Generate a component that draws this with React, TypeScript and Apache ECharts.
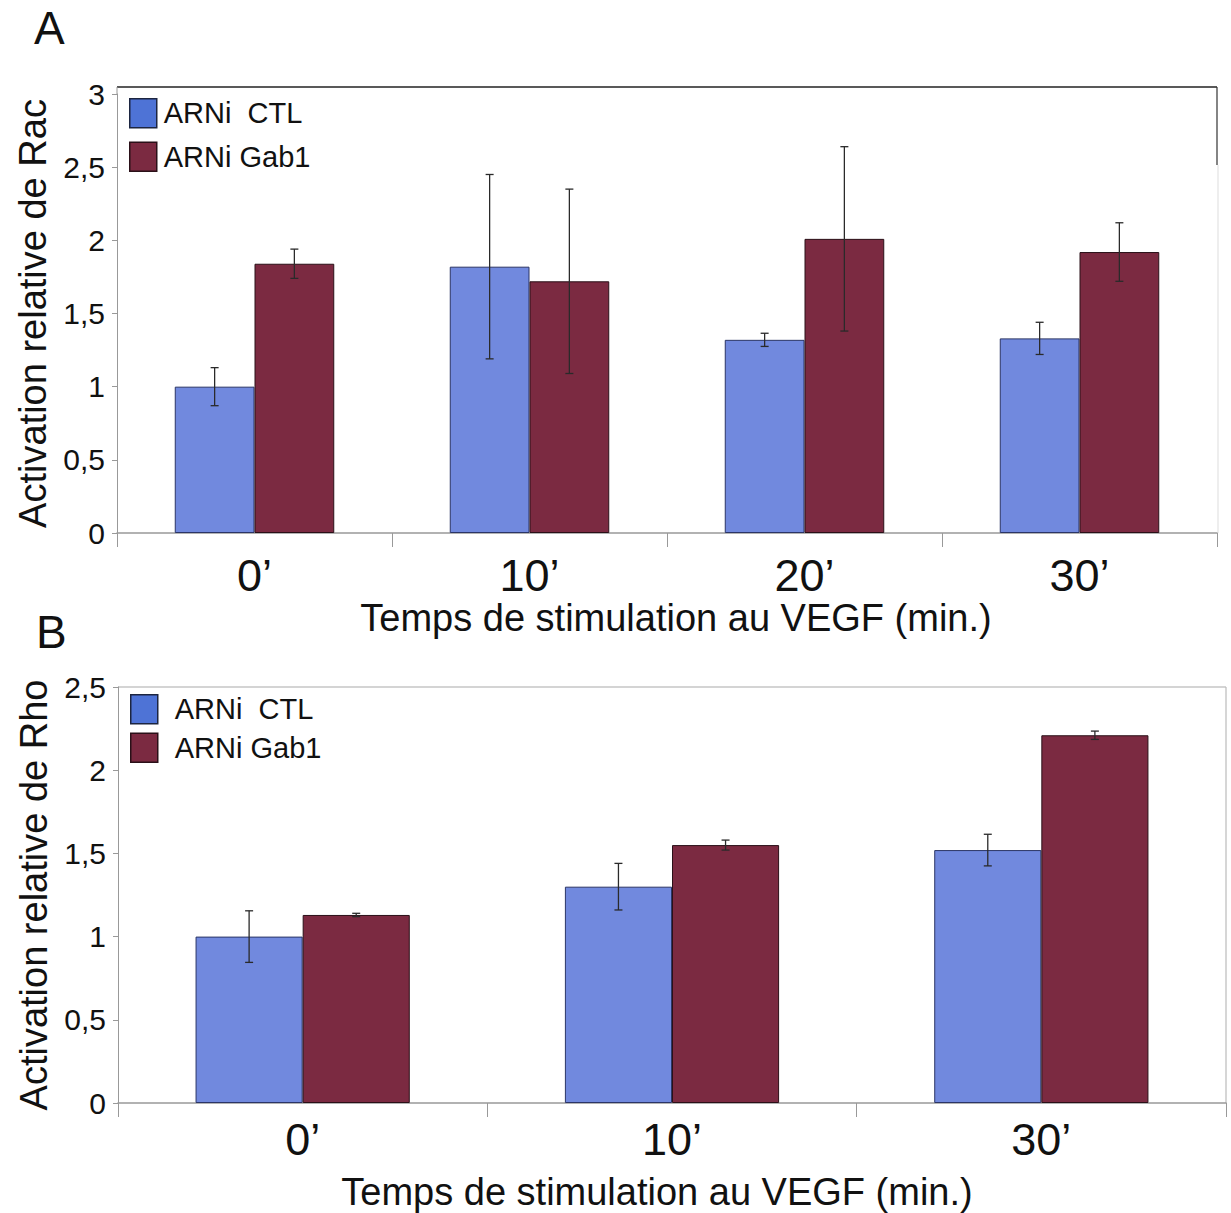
import React, { useEffect, useRef } from "react";
import * as echarts from "echarts";

const catsA = ["0’", "10’", "20’", "30’"];
const racCtl = [1.0, 1.82, 1.32, 1.33];
const racCtlErr = [0.13, 0.63, 0.045, 0.11];
const racGab = [1.84, 1.72, 2.01, 1.92];
const racGabErr = [0.1, 0.63, 0.63, 0.2];

const catsB = ["0’", "10’", "30’"];
const rhoCtl = [1.0, 1.3, 1.52];
const rhoCtlErr = [0.155, 0.14, 0.095];
const rhoGab = [1.13, 1.55, 2.21];
const rhoGabErr = [0.01, 0.03, 0.025];

const yTicksA = [0, 0.5, 1, 1.5, 2, 2.5, 3];
const yTicksB = [0, 0.5, 1, 1.5, 2, 2.5];

const NAME_CTL = "ARNi  CTL";
const NAME_GAB = "ARNi Gab1";
const BLUE = "#7189de";
const RED = "#7b2a41";
const GAP = 0.42;
const FONT = "Liberation Sans, Arial, sans-serif";

function errData(vals: number[], errs: number[], side: number) {
  return vals.map((v, i) => [i, v - errs[i], v + errs[i], side]);
}

const renderErr = (params: any, api: any) => {
  const cat = api.value(0);
  const lo = api.value(1);
  const hi = api.value(2);
  const side = api.value(3);
  const band = api.size([1, 0])[0];
  const bw = (band * (1 - GAP)) / 2;
  const ph = api.coord([cat, hi]);
  const pl = api.coord([cat, lo]);
  const x = ph[0] + (side === 0 ? -bw / 2 : bw / 2);
  const st = { stroke: "#2a2a2a", lineWidth: 1.3 };
  return {
    type: "group",
    children: [
      { type: "line", shape: { x1: x, y1: ph[1], x2: x, y2: pl[1] }, style: st },
      { type: "line", shape: { x1: x - 4, y1: ph[1], x2: x + 4, y2: ph[1] }, style: st },
      { type: "line", shape: { x1: x - 4, y1: pl[1], x2: x + 4, y2: pl[1] }, style: st },
    ],
  };
};

const fmt = (v: number) => String(v).replace(".", ",");

export default function App() {
  const ref = useRef<HTMLDivElement>(null);
  useEffect(() => {
    if (!ref.current) return;
    const chart = echarts.init(ref.current, undefined, { renderer: "svg" });
    const yAxisCommon = (ticks: number[], name: string, idx: number) => ({
      type: "value",
      gridIndex: idx,
      min: ticks[0],
      max: ticks[ticks.length - 1],
      interval: 0.5,
      name,
      nameLocation: "middle",
      nameRotate: 90,
      nameGap: 52,
      nameTextStyle: { fontSize: 38, color: "#111", fontFamily: FONT },
      axisLine: { show: true, lineStyle: { color: "#999", width: 1 } },
      axisTick: { show: true, length: 5, lineStyle: { color: "#999" } },
      splitLine: { show: false },
      axisLabel: { fontSize: 30, color: "#111", fontFamily: FONT, margin: 12, formatter: fmt },
    });
    const xAxisCommon = (cats: string[], idx: number, margin: number, gap: number, pad: number[]) => ({
      type: "category",
      gridIndex: idx,
      data: cats,
      name: "Temps de stimulation au VEGF (min.)",
      nameLocation: "middle",
      nameGap: gap,
      nameTextStyle: { fontSize: 38, color: "#111", fontFamily: FONT, padding: pad },
      axisLine: { show: true, lineStyle: { color: "#999", width: 1.5 } },
      axisTick: { show: true, length: 14, lineStyle: { color: "#999" } },
      axisLabel: { fontSize: 45, color: "#111", fontFamily: FONT, margin },
      splitLine: { show: false },
    });
    const barCommon = {
      type: "bar",
      barGap: "0%",
      barCategoryGap: GAP * 100 + "%",
    };
    const legendCommon = (top: number, left: number, gap: number, pad: number) => ({
      orient: "vertical",
      top,
      left,
      padding: 0,
      itemWidth: 27,
      itemHeight: 29,
      itemGap: gap,
      icon: "rect",
      textStyle: { fontSize: 29, color: "#111", fontFamily: FONT, padding: [0, 0, 0, pad] },
      data: [
        { name: NAME_CTL, itemStyle: { color: "#4e73d6", borderColor: "#1c2540", borderWidth: 1.5 } },
        { name: NAME_GAB, itemStyle: { color: RED, borderColor: "#2a1018", borderWidth: 1.5 } },
      ],
    });
    chart.setOption({
      animation: false,
      backgroundColor: "#fff",
      grid: [
        { left: 117, top: 94, right: 14, height: 439 },
        { left: 118, top: 687, right: 5, height: 416 },
      ],
      legend: [legendCommon(98, 129, 13, 2), legendCommon(694, 130, 8, 12)],
      xAxis: [
        xAxisCommon(catsA, 0, 20, 47, [0, 0, 0, 18]),
        xAxisCommon(catsB, 1, 14, 70, [0, 30, 0, 0]),
      ],
      yAxis: [
        yAxisCommon(yTicksA, "Activation relative de Rac", 0),
        yAxisCommon(yTicksB, "Activation relative de Rho", 1),
      ],
      graphic: [
        { type: "text", left: 34, top: 5, style: { text: "A", fontSize: 46, fill: "#111", fontFamily: FONT } },
        { type: "text", left: 36, top: 609, style: { text: "B", fontSize: 46, fill: "#111", fontFamily: FONT } },
        { type: "line", shape: { x1: 117, y1: 87, x2: 1217, y2: 87 }, style: { stroke: "#222", lineWidth: 1.5 } },
        { type: "line", shape: { x1: 117, y1: 87, x2: 117, y2: 94 }, style: { stroke: "#999", lineWidth: 1 } },
        { type: "line", shape: { x1: 1217, y1: 87, x2: 1217, y2: 165 }, style: { stroke: "#333", lineWidth: 1.2 } },
        { type: "line", shape: { x1: 1218, y1: 165, x2: 1218, y2: 533 }, style: { stroke: "#ddd", lineWidth: 1 } },
        { type: "line", shape: { x1: 118, y1: 687, x2: 1226, y2: 687 }, style: { stroke: "#aaa", lineWidth: 1.2 } },
        { type: "line", shape: { x1: 1226, y1: 687, x2: 1226, y2: 1103 }, style: { stroke: "#bbb", lineWidth: 1.2 } },
      ],
      series: [
        {
          ...barCommon,
          name: NAME_CTL,
          xAxisIndex: 0,
          yAxisIndex: 0,
          data: racCtl,
          itemStyle: { color: BLUE, borderColor: "#2b3566", borderWidth: 1 },
        },
        {
          ...barCommon,
          name: NAME_GAB,
          xAxisIndex: 0,
          yAxisIndex: 0,
          data: racGab,
          itemStyle: { color: RED, borderColor: "#2a1018", borderWidth: 1 },
        },
        {
          ...barCommon,
          name: NAME_CTL,
          xAxisIndex: 1,
          yAxisIndex: 1,
          data: rhoCtl,
          itemStyle: { color: BLUE, borderColor: "#2b3566", borderWidth: 1 },
        },
        {
          ...barCommon,
          name: NAME_GAB,
          xAxisIndex: 1,
          yAxisIndex: 1,
          data: rhoGab,
          itemStyle: { color: RED, borderColor: "#2a1018", borderWidth: 1 },
        },
        {
          type: "custom",
          name: "errA",
          xAxisIndex: 0,
          yAxisIndex: 0,
          z: 5,
          renderItem: renderErr,
          data: [...errData(racCtl, racCtlErr, 0), ...errData(racGab, racGabErr, 1)],
        },
        {
          type: "custom",
          name: "errB",
          xAxisIndex: 1,
          yAxisIndex: 1,
          z: 5,
          renderItem: renderErr,
          data: [...errData(rhoCtl, rhoCtlErr, 0), ...errData(rhoGab, rhoGabErr, 1)],
        },
      ],
    });
    return () => chart.dispose();
  }, []);
  return (
    <div
      ref={ref}
      style={{ position: "absolute", left: 0, top: 0, width: 1231, height: 1213, background: "#fff" }}
    />
  );
}
